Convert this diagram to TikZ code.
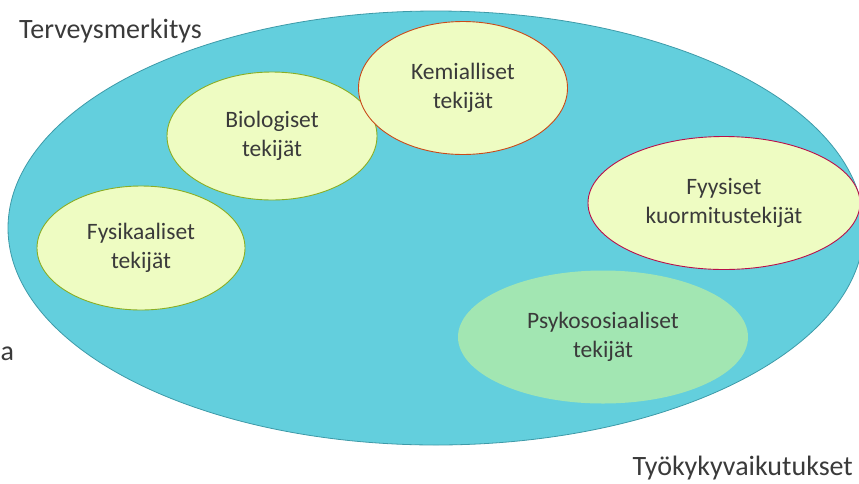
\documentclass[tikz,border=0pt]{standalone}
\usepackage{fontspec}
\setmainfont{Carlito}
\usetikzlibrary{shapes.geometric}
\definecolor{bigfill}{HTML}{63CFDD}
\definecolor{bigline}{HTML}{3E9AA8}
\definecolor{yfill}{HTML}{EEFCC2}
\definecolor{gfill}{HTML}{A2E6B2}
\definecolor{oline}{HTML}{8AAE24}
\definecolor{rline}{HTML}{C94A1A}
\definecolor{cline}{HTML}{B8104A}
\definecolor{txt}{HTML}{3A3A3A}
\tikzset{
  factor/.style={ellipse, draw, line width=0.9pt, fill=yfill, inner sep=0pt,
    align=center, text=txt, font=\fontsize{23.5}{28.5}\selectfont},
  label/.style={text=txt, inner sep=0pt, font=\fontsize{28}{33}\selectfont}
}
\begin{document}
\begin{tikzpicture}[x=1pt,y=-1pt]
\useasboundingbox (0,0) rectangle (859,483);
\node[ellipse, draw=bigline, line width=0.8pt, fill=bigfill, minimum width=856pt, minimum height=434pt, inner sep=0pt] (main) at (436,228) {};
\node[factor, draw=oline, minimum width=208pt, minimum height=124pt] (fys) at (141,248) {Fysikaaliset\\tekijät};
\node[factor, draw=oline, minimum width=210pt, minimum height=128pt] (bio) at (272,136) {Biologiset\\tekijät};
\node[factor, draw=rline, minimum width=209pt, minimum height=133pt] (kem) at (463,88) {Kemialliset\\tekijät};
\node[factor, draw=cline, minimum width=272pt, minimum height=133pt] (fyy) at (724,203) {Fyysiset\\kuormitustekijät};
\node[factor, draw=none, fill=gfill, minimum width=290pt, minimum height=133pt] (psy) at (603,337) {Psykososiaaliset\\tekijät};
\node[label, anchor=base west] (ter) at (19,38) {Terveysmerkitys};
\node[label, anchor=base east] (tyo) at (853,475) {Työkykyvaikutukset};
\node[label, anchor=base west] (a) at (0.5,360) {a};
\end{tikzpicture}
\end{document}
